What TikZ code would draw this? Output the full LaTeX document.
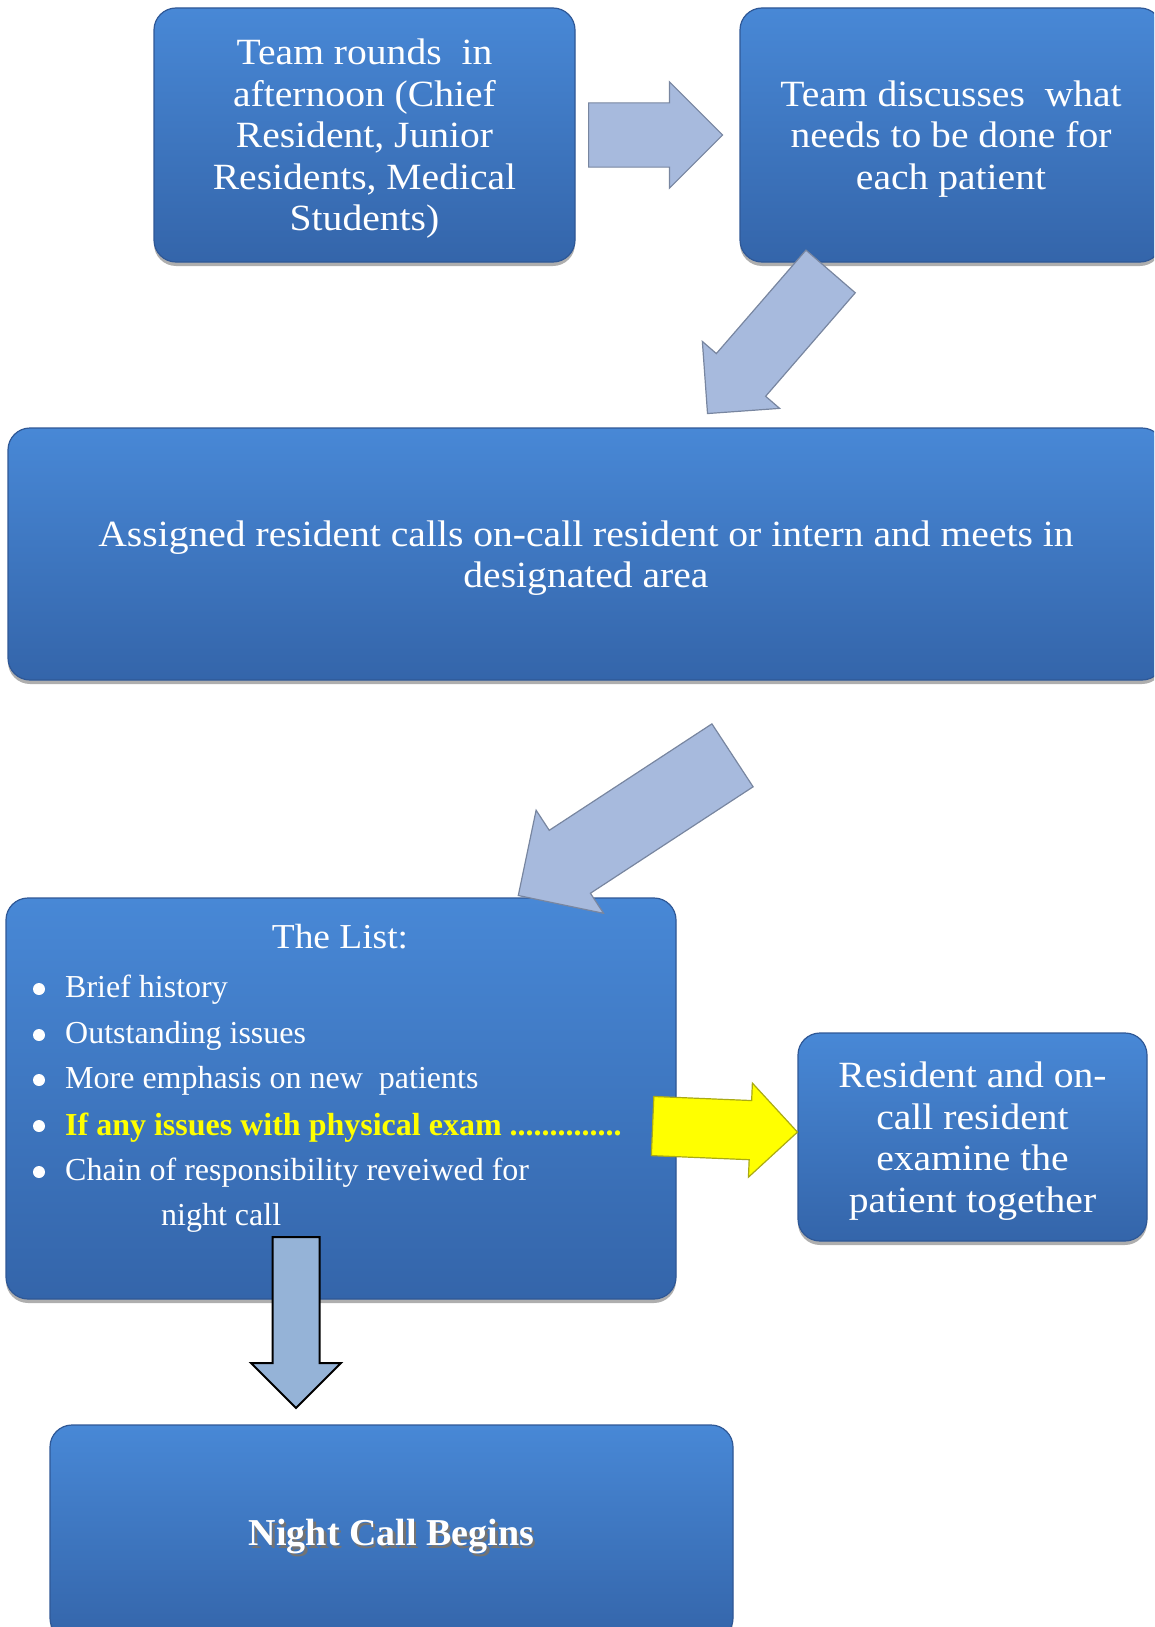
\documentclass[tikz,border=0pt]{standalone}
\usepackage{fontspec}
\setmainfont{Liberation Serif}
\newfontfamily\widefamily[FakeStretch=1.07]{Liberation Serif}
\usepackage{xcolor}
\usetikzlibrary{shapes.arrows,shadows}

\definecolor{boxtop}{RGB}{72,136,214}
\definecolor{boxbottom}{RGB}{52,101,170}
\definecolor{boxedge}{RGB}{47,88,150}
\definecolor{arrowfill}{RGB}{167,186,221}
\definecolor{arrowedge}{RGB}{120,134,160}
\definecolor{downfill}{RGB}{149,179,215}
\definecolor{listyellow}{RGB}{255,255,0}
\definecolor{yellowedge}{RGB}{170,170,20}

\newcommand{\boxfont}{\widefamily\fontsize{37}{41.5}\selectfont}
\newcommand{\listfont}{\fontsize{32}{46}\selectfont}

\begin{document}
\begin{tikzpicture}[x=1pt, y=-1pt,
    flowbox/.style = {draw=boxedge, line width=1.2pt, rounded corners=22pt,
                      top color=boxtop, bottom color=boxbottom,
                      drop shadow={shadow xshift=0pt, shadow yshift=-4pt, opacity=.45, fill=black!70},
                      text=white, align=center, font=\boxfont, inner sep=0pt, text depth=0pt},
    blockarrow/.style = {single arrow, single arrow head indent=0pt, inner xsep=0pt,
                         draw=arrowedge, line width=1.2pt, fill=arrowfill, anchor=tail},
    listitem/.style = {anchor=base west, text=white, font=\listfont, inner sep=0pt}]
\clip (0,0) rectangle (1154,1627);

% boxes
\node[flowbox, minimum width=421pt, minimum height=254pt] (rounds) at (364.5,135)
    {Team rounds~ in\\ afternoon (Chief\\ Resident, Junior\\ Residents, Medical\\ Students)};
\node[flowbox, minimum width=422pt, minimum height=254pt] (discuss) at (951,135)
    {Team discusses~ what\\ needs to be done for\\ each patient};
\node[flowbox, minimum width=1156pt, minimum height=252pt] (assigned) at (586,554)
    {Assigned resident calls on-call resident or intern and meets in\\ designated area};
\node[flowbox, minimum width=670pt, minimum height=401pt] (list) at (341,1098.5) {};
\node[flowbox, minimum width=349pt, minimum height=208pt] (examine) at (972.5,1137)
    {Resident and on-\\ call resident\\ examine the\\ patient together};
\node[flowbox, minimum width=683pt, minimum height=215pt,
      font=\fontsize{38}{40}\selectfont\bfseries] (night) at (391.5,1532.5)
    {\rlap{\raisebox{-2.5pt}{\hspace{2.5pt}\color{black!55}Night Call Begins}}Night Call Begins};

% the list
\node[text=white, font=\widefamily\fontsize{35}{40}\selectfont, anchor=base, inner sep=0pt]
    (listtitle) at (340,948) {The List:};
\foreach \y in {989,1035,1080,1126,1172}
    \fill[white] (39,\y) circle (6pt);
\node[listitem] (item1) at (65,997) {Brief history};
\node[listitem] (item2) at (65,1043) {Outstanding issues};
\node[listitem] (item3) at (65,1088) {More emphasis on new~ patients};
\node[listitem, text=listyellow, font=\listfont\bfseries] (item4) at (65,1135)
    {If any issues with physical exam ..............};
\node[listitem] (item5) at (65,1180) {Chain of responsibility reveiwed for};
\node[listitem] (item6) at (161,1225) {night call};

% arrows
\node[blockarrow, minimum height=134pt, inner ysep=31.5pt,
      single arrow head extend=21pt] (arrow1) at (588,135) {};
\node[blockarrow, minimum height=188pt, inner ysep=32pt,
      single arrow head extend=18.5pt, rotate=229.1] (arrow2) at (831,271) {};
\node[blockarrow, minimum height=256pt, inner ysep=37pt,
      single arrow head extend=24pt, rotate=213.2] (arrow3) at (733,755) {};
\node[blockarrow, minimum height=145pt, inner ysep=29pt,
      single arrow head extend=17.5pt, rotate=-2.4,
      draw=yellowedge, fill=listyellow] (arrow4) at (652,1126) {};
\node[blockarrow, minimum height=171pt, inner ysep=22.5pt,
      single arrow head extend=21.5pt, rotate=-90,
      draw=black, line width=2pt, fill=downfill] (arrow5) at (296,1236) {};
\end{tikzpicture}
\end{document}
